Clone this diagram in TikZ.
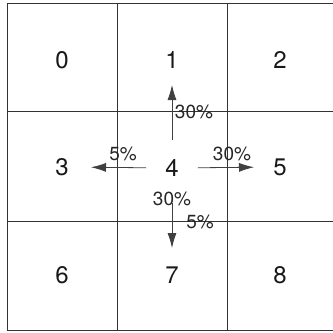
\documentclass[tikz,border=0pt]{standalone}
\usepackage{fontspec}
\setmainfont{TeX Gyre Heros}
\usetikzlibrary{arrows.meta}
\begin{document}
\begin{tikzpicture}[x=1pt,y=-1pt,
  gridline/.style={draw=black!80,line width=0.8pt},
  num/.style={inner sep=0pt,font=\fontsize{24}{24}\selectfont,text=black!90},
  pct/.style={inner sep=0pt,font=\fontsize{19}{19}\selectfont,text=black!85},
  arr/.style={draw=black!75,line width=0.8pt,-{Latex[length=15pt,width=9pt]}}]
\useasboundingbox (0,0) rectangle (333,333);
\draw[gridline] (7,3) rectangle (334,330);
\draw[gridline] (117,3) -- (117,330);
\draw[gridline] (227,3) -- (227,330);
\draw[gridline] (7,111) -- (334,111);
\draw[gridline] (7,221) -- (334,221);
\node[num] (n0) at (62,60) {0};
\node[num] (n1) at (172,60) {1};
\node[num] (n2) at (280,60) {2};
\node[num] (n3) at (62,167) {3};
\node[num] (n4) at (172,168) {4};
\node[num] (n5) at (280,167) {5};
\node[num] (n6) at (62,275) {6};
\node[num] (n7) at (172,275) {7};
\node[num] (n8) at (280,275) {8};
\draw[arr,shorten <=28pt,shorten >=25pt] (n4.center) -- (n1.center);
\draw[arr,shorten <=26pt,shorten >=29pt] (n4.center) -- (n3.center);
\draw[arr,shorten <=26pt,shorten >=26pt] (n4.center) -- (n5.center);
\draw[arr,shorten <=35pt,shorten >=27pt] (n4.center) -- (n7.center);
\node[pct] (lu) at (194,112) {30\%};
\node[pct] (ll) at (123,154) {5\%};
\node[pct] (lr) at (232,154) {30\%};
\node[pct] (ld) at (172,199) {30\%};
\node[pct] (ld2) at (200,222) {5\%};
\end{tikzpicture}
\end{document}
